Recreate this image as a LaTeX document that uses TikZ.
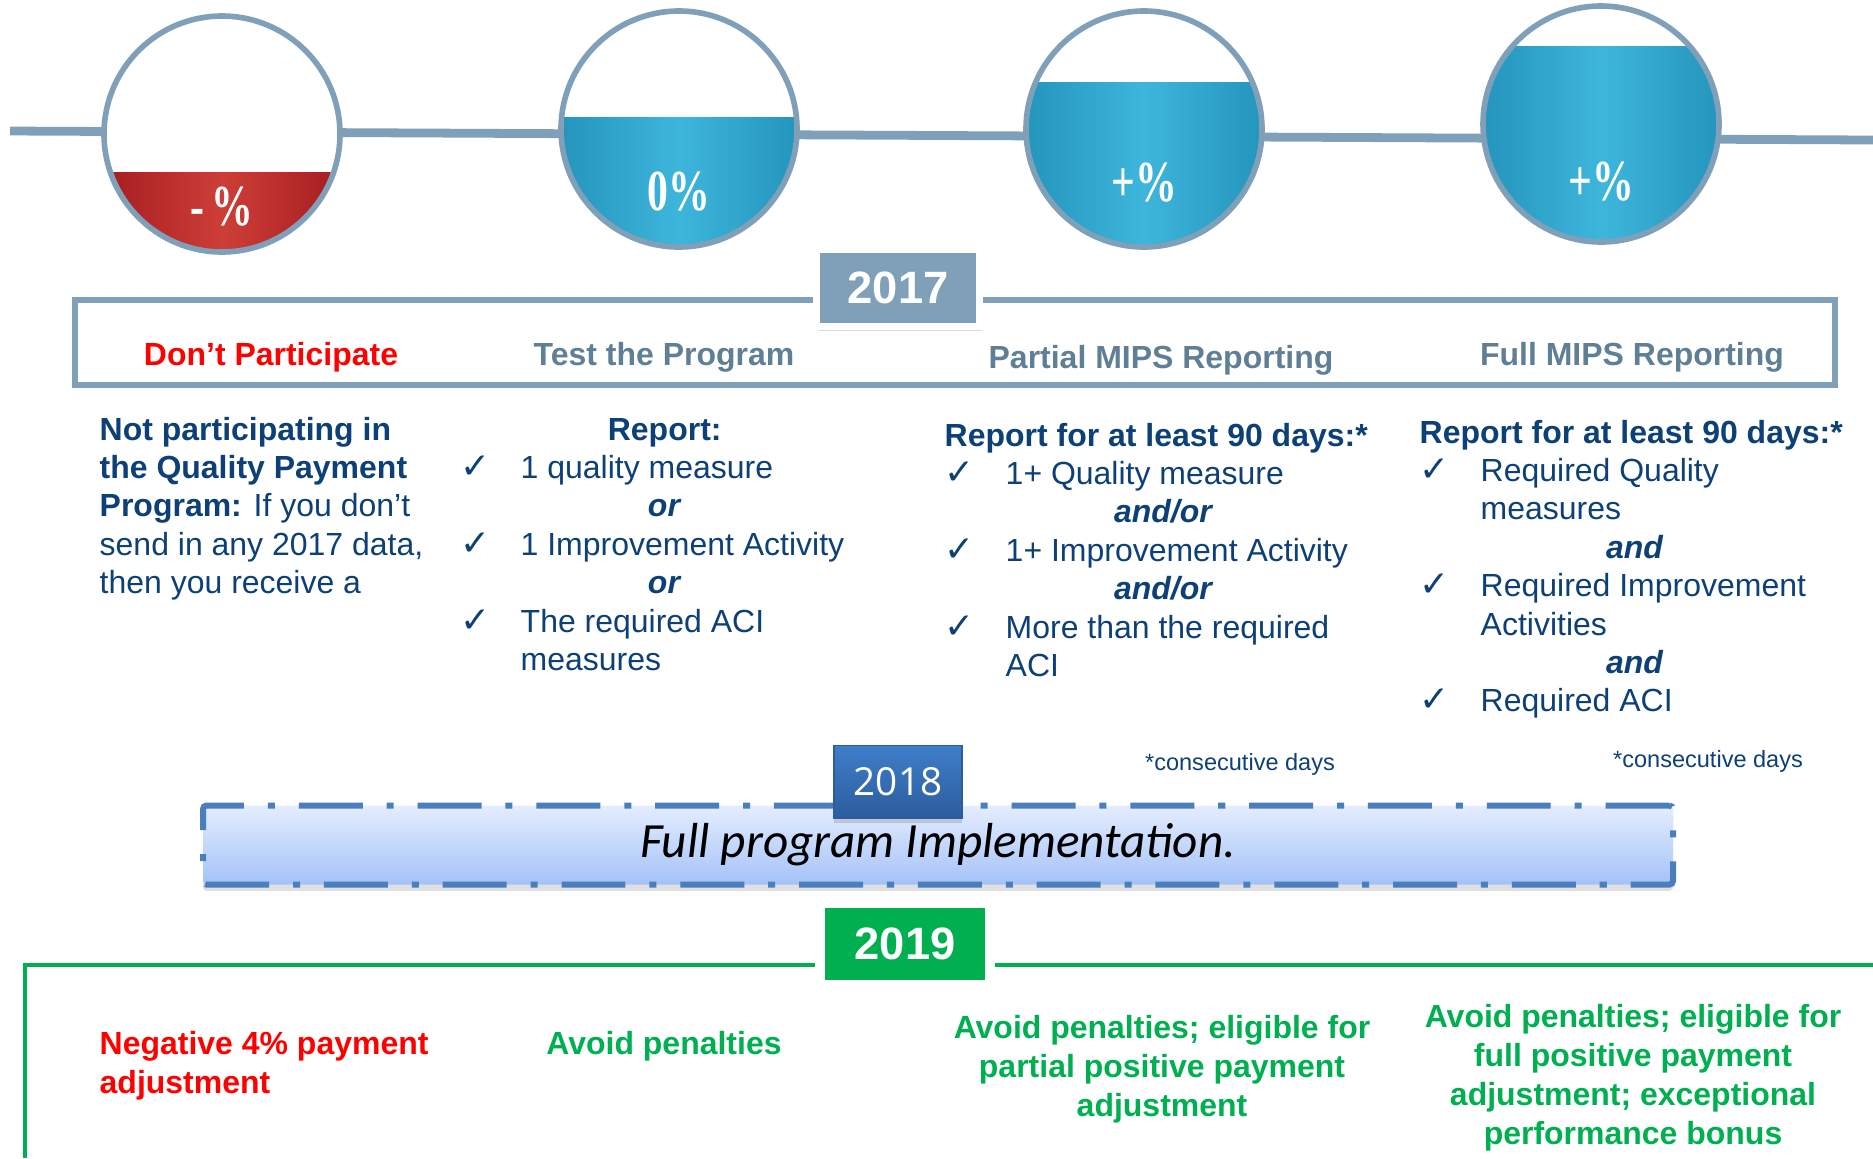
\documentclass[tikz,border=0pt]{standalone}
\usepackage{fontspec}
\setmainfont{Liberation Sans}
\newfontfamily\pctfont{Liberation Serif}
\newfontfamily\yearfont{Open Sans}
\newfontfamily\implfont{Carlito}
\newfontfamily\chkfont{DejaVu Sans}
\usepackage{graphicx}
\usepackage{array}
\usepackage{tikz}
\usetikzlibrary{shadows}

\definecolor{lineblue}{RGB}{127,160,184}
\definecolor{headgray}{RGB}{95,127,150}
\definecolor{navy}{RGB}{12,64,118}
\definecolor{mred}{RGB}{255,0,0}
\definecolor{mgreen}{RGB}{0,176,80}
\definecolor{waterL}{RGB}{62,182,220}
\definecolor{waterD}{RGB}{36,148,188}
\definecolor{wineL}{RGB}{205,62,55}
\definecolor{wineD}{RGB}{165,28,32}
\definecolor{boxA}{RGB}{63,126,200}
\definecolor{boxB}{RGB}{44,92,158}
\definecolor{dashblue}{RGB}{74,126,188}
\definecolor{implTop}{RGB}{228,237,254}
\definecolor{implBot}{RGB}{164,194,248}

\newcommand{\chk}{{\chkfont\bfseries\fontsize{10.2}{10.93}\selectfont ✓}}
\newcommand{\colfont}{\fontsize{9.1}{10.93}\selectfont}

\begin{document}
\begin{tikzpicture}[x=0.1mm,y=0.1mm,
  ring/.style={draw=lineblue,line width=1.6pt},
  pct/.style={text=white,font=\pctfont\bfseries\fontsize{16.5}{18}\selectfont},
  yearbox/.style={draw=white,text=white,font=\bfseries\fontsize{12.9}{15}\selectfont},
  head/.style={anchor=base,inner sep=0pt,font=\bfseries\fontsize{9.1}{11}\selectfont},
  colblock/.style={anchor=base west,inner sep=0pt,text=navy,font=\colfont},
  result/.style={anchor=base,inner sep=0pt,font=\bfseries\fontsize{9.1}{11.1}\selectfont},
  note/.style={anchor=base,inner sep=0pt,text=navy,font=\fontsize{6.7}{8}\selectfont},
  implbox/.style={draw=dashblue,line width=1.7pt,dash pattern=on 18.2pt off 6.8pt on 2pt off 6.8pt,
    top color=implTop,bottom color=implBot,rounded corners=1pt,minimum width=14.7cm,minimum height=0.79cm,
    font=\implfont\itshape\fontsize{14}{16}\selectfont,
    drop shadow={shadow xshift=0pt,shadow yshift=-1.8pt,opacity=0.25}}]
\useasboundingbox (0,0) rectangle (1873,-1158);

\coordinate (tlA) at (10,-131);
\coordinate (tlB) at (1873,-140);
\draw[lineblue,line width=2.5pt] (tlA) -- (tlB);

\foreach \cx/\cy/\lev/\cl/\cd/\ty/\pc [count=\i] in {
  222/134/172/wineL/wineD/207/{-\,\%},
  679/129/117/waterL/waterD/192/{0\%},
  1144/129/82/waterL/waterD/183/{+\%},
  1601/124/46/waterL/waterD/182/{+\%}}{
  \fill[white] (\cx,-\cy) circle (118);
  \begin{scope}
    \clip (\cx,-\cy) circle (118);
    \shade[left color=\cd,right color=\cd,middle color=\cl] (\cx-120,-\lev) rectangle (\cx+120,-\cy-120);
  \end{scope}
  \draw[ring] (\cx,-\cy) circle (118);
  \node[pct] (pct\i) at (\cx,-\ty) {\scalebox{0.72}[1]{\pc}};
}

\draw[lineblue,line width=1.7pt] (75,-300) rectangle (1835,-385);
\node[yearbox,fill=lineblue,line width=2pt,minimum width=1.63cm,minimum height=0.77cm,
  drop shadow={shadow xshift=0.6pt,shadow yshift=-1.2pt,opacity=0.3}] (y2017) at (898,-288) {2017};

\node[head,text=mred] (h1) at (271,-365) {Don’t Participate};
\node[head,text=headgray] (h2) at (664,-365) {Test the Program};
\node[head,text=headgray] (h3) at (1161,-368) {Partial MIPS Reporting};
\node[head,text=headgray] (h4) at (1632,-365) {Full MIPS Reporting};

\node[colblock] (c1) at (99,-440) {\begin{tabular}[t]{@{}l@{}}
\textbf{Not participating in}\\
\textbf{the Quality Payment}\\
\textbf{Program:} If you don’t\\
send in any 2017 data,\\
then you receive a
\end{tabular}};

\node[colblock] (c2) at (460,-440) {\begin{tabular}[t]{@{}p{0.60cm}@{}p{3.48cm}@{}}
\multicolumn{2}{@{}c@{}}{\textbf{Report:}}\\
\chk & 1 quality measure\\
\multicolumn{2}{@{}c@{}}{\textbf{\textit{or}}}\\
\chk & 1 Improvement Activity\\
\multicolumn{2}{@{}c@{}}{\textbf{\textit{or}}}\\
\chk & The required ACI\\
 & measures
\end{tabular}};

\node[colblock] (c3) at (944,-446) {\begin{tabular}[t]{@{}p{0.61cm}@{}p{3.77cm}@{}}
\multicolumn{2}{@{}l@{}}{\textbf{Report for at least 90 days:*}}\\
\chk & 1+ Quality measure\\
\multicolumn{2}{@{}c@{}}{\textbf{\textit{and/or}}}\\
\chk & 1+ Improvement Activity\\
\multicolumn{2}{@{}c@{}}{\textbf{\textit{and/or}}}\\
\chk & More than the required\\
 & ACI
\end{tabular}};

\node[colblock] (c4) at (1419,-443) {\begin{tabular}[t]{@{}p{0.61cm}@{}p{3.69cm}@{}}
\multicolumn{2}{@{}l@{}}{\textbf{Report for at least 90 days:*}}\\
\chk & Required Quality\\
 & measures\\
\multicolumn{2}{@{}c@{}}{\textbf{\textit{and}}}\\
\chk & Required Improvement\\
 & Activities\\
\multicolumn{2}{@{}c@{}}{\textbf{\textit{and}}}\\
\chk & Required ACI
\end{tabular}};

\node[note] (n3) at (1240,-770) {*consecutive days};
\node[note] (n4) at (1708,-767) {*consecutive days};

\node[implbox] (impl) at (938,-845) {Full program Implementation.};
\node[draw=boxB,line width=0.5pt,top color=boxA,bottom color=boxB,text=white,
  font=\yearfont\fontsize{11}{13}\selectfont,minimum width=1.28cm,minimum height=0.73cm,
  drop shadow={shadow xshift=0pt,shadow yshift=-1.2pt,opacity=0.3}] (y2018) at (898,-782) {2018};

\draw[mgreen,line width=1.4pt] (1873,-965) -- (25,-965) -- (25,-1158);
\node[yearbox,fill=mgreen,line width=2.85pt,minimum width=1.70cm,minimum height=0.82cm] (y2019) at (905,-944) {2019};

\node[result,anchor=base west,text=mred] (r1) at (99,-1054) {\begin{tabular}[t]{@{}l@{}}Negative 4\% payment\\adjustment\end{tabular}};
\node[result,text=mgreen] (r2) at (664,-1054) {Avoid penalties};
\node[result,text=mgreen] (r3) at (1162,-1038) {\begin{tabular}[t]{@{}c@{}}Avoid penalties; eligible for\\partial positive payment\\adjustment\end{tabular}};
\node[result,text=mgreen] (r4) at (1633,-1027) {\begin{tabular}[t]{@{}c@{}}Avoid penalties; eligible for\\full positive payment\\adjustment; exceptional\\performance bonus\end{tabular}};
\end{tikzpicture}
\end{document}
